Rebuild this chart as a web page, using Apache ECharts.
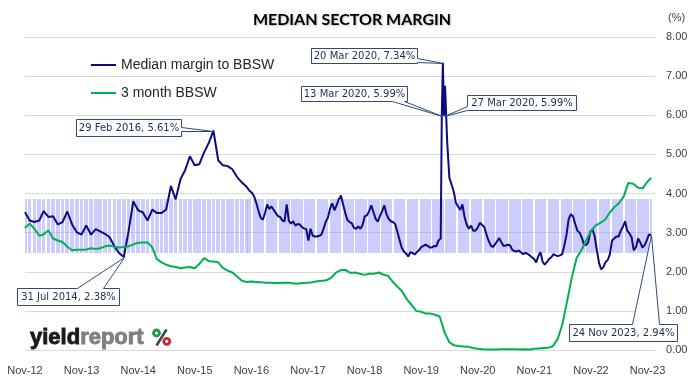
<!DOCTYPE html>
<html><head><meta charset="utf-8">
<script src="https://cdn.jsdelivr.net/npm/echarts@6/dist/echarts.min.js"></script>
<style>html,body{margin:0;padding:0;background:#fff}#c{width:699px;height:383px}</style>
</head><body><div id="c"></div>
<script>
// ---------------- DATA ----------------
const tickLabels = ['Nov-12','Nov-13','Nov-14','Nov-15','Nov-16','Nov-17','Nov-18','Nov-19','Nov-20','Nov-21','Nov-22','Nov-23'];

// Median margin to BBSW: month-end values Oct 2012 - Sep 2016
const marginMonthlyStart = '2012-10-31';
const marginMonthly = [3.52,3.31,3.27,3.31,3.55,3.40,3.42,3.21,3.27,3.54,
  3.21,3.01,2.95,3.18,2.95,3.09,3.03,2.97,2.88,2.65,
  2.48,2.38,3.05,3.80,3.57,3.52,3.31,3.59,3.50,3.50,
  3.59,4.19,3.85,4.36,4.60,4.95,4.72,4.75,5.05,5.30,
  5.61,4.85,4.72,4.70,4.62,4.42,4.28,4.17];
// then every second Friday from 7 Oct 2016 to 24 Nov 2023
const marginFortnightStart = '2016-10-07';
const marginFortnightly = [4.15,4.06,4.02,3.92,3.76,3.55,3.38,3.33,3.50,3.72,
  3.60,3.67,3.58,3.50,3.42,3.40,3.31,3.29,3.72,3.30,
  3.23,3.29,3.18,3.22,3.21,3.14,3.11,3.09,2.80,3.10,
  2.92,2.90,2.90,2.92,2.95,3.10,3.28,3.38,3.62,3.75,
  3.57,3.70,3.85,3.95,3.72,3.50,3.32,3.27,3.24,3.12,
  3.10,3.16,3.10,3.20,3.42,3.44,3.55,3.70,3.52,3.35,
  3.28,3.42,3.55,3.70,3.47,3.35,3.29,3.27,3.22,3.02,
  2.82,2.62,2.52,2.47,2.39,2.50,2.48,2.44,2.50,2.55,
  2.63,2.66,2.69,2.66,2.62,2.62,2.66,2.65,2.80,2.85,
  7.34,6.75,5.30,4.40,4.23,4.05,3.76,3.67,3.58,3.72,
  3.40,3.20,3.10,3.18,3.05,3.05,3.12,3.25,3.20,3.15,
  2.97,2.80,2.68,2.63,2.70,2.78,2.86,2.75,2.66,2.67,
  2.69,2.67,2.56,2.53,2.52,2.54,2.50,2.45,2.48,2.46,
  2.42,2.37,2.33,2.24,2.40,2.50,2.25,2.18,2.25,2.33,
  2.37,2.45,2.42,2.40,2.42,2.45,2.68,2.95,3.35,3.47,
  3.42,3.22,3.05,3.00,2.88,2.70,2.68,2.75,3.03,3.08,
  2.90,2.55,2.22,2.06,2.12,2.25,2.30,2.45,2.80,2.85,
  2.90,2.90,3.05,3.15,3.29,3.05,2.98,2.88,2.55,2.62,
  2.85,2.75,2.62,2.68,2.80,2.95,2.94];
// in-between weeks around the March 2020 spike
const marginExtraDates = ['2020-03-13','2020-03-27','2020-04-10'];
const marginExtraValues = [5.99, 5.99, 6.70];

// 3 month BBSW: month-end values Oct 2012 - Oct 2023, then 24 Nov 2023
const bbswMonthly = [3.12,3.23,3.10,2.92,2.95,3.06,2.85,2.80,2.76,2.64,
  2.55,2.56,2.56,2.57,2.60,2.58,2.60,2.65,2.67,2.64,
  2.62,2.63,2.65,2.70,2.74,2.75,2.75,2.62,2.33,2.24,
  2.18,2.14,2.12,2.09,2.11,2.12,2.09,2.20,2.35,2.27,
  2.26,2.24,2.10,2.03,1.98,1.88,1.77,1.74,1.75,1.74,
  1.73,1.72,1.72,1.71,1.71,1.72,1.72,1.70,1.70,1.71,
  1.72,1.73,1.76,1.77,1.78,1.85,1.98,2.04,2.05,1.97,
  1.98,1.95,1.92,1.95,1.95,1.98,1.93,1.90,1.75,1.62,
  1.50,1.30,1.15,1.00,0.98,0.93,0.93,0.90,0.85,0.45,
  0.20,0.12,0.10,0.09,0.08,0.05,0.03,0.02,0.01,0.01,
  0.01,0.02,0.02,0.02,0.02,0.01,0.02,0.01,0.03,0.04,
  0.05,0.06,0.10,0.28,0.65,1.25,1.85,2.35,2.55,2.80,
  3.03,3.18,3.25,3.33,3.50,3.65,3.75,3.92,4.27,4.25,
  4.15,4.13,4.30];
const bbswLastDate = '2023-11-24';
const bbswLastValue = 4.40;

// shaded range band (monthly columns, then weekly columns)
const bandRange = [2.47, 3.87];
const bandMonthlyCount = 48;
const bandWeeklyStart = '2016-10-07';
const bandWeeklyEnd = '2023-11-24';

// labelled points
const annotations = [
  {date:'2016-02-29', value:5.61},
  {date:'2020-03-20', value:7.34},
  {date:'2020-03-13', value:5.99},
  {date:'2020-03-27', value:5.99},
  {date:'2014-07-31', value:2.38},
  {date:'2023-11-24', value:2.94}
];

// ---------------- LAYOUT ----------------
const calloutLayout = [
  {box:[76,119,105,17], edge:'right', base:[127,131]},
  {box:[311,48,106,15], edge:'right', base:[58,62]},
  {box:[301,86,106,15], edge:'bottom', base:[392,404]},
  {box:[467,95,109,15], edge:'left', base:[106,110]},
  {box:[17,288,102,17], edge:'top', base:[77,103]},
  {box:[569,324,108,17], edge:'top', base:[632,659]}
];
const NAVY = '#0C0C80', GREEN = '#00B050', BOX_LINE = '#2F4A7A', BOX_TEXT = '#1F2F4F';
const MON = ['Jan','Feb','Mar','Apr','May','Jun','Jul','Aug','Sep','Oct','Nov','Dec'];

const DAY = 864e5;
function parseD(s){ const p = s.split('-').map(Number); return Date.UTC(p[0], p[1]-1, p[2]); }
const ORIGIN = parseD(marginMonthlyStart);
const toX = s => parseD(s) - ORIGIN;
const monthEndX = i => Date.UTC(2012, 10 + i, 0) - ORIGIN;
const X_MAX = 4066 * DAY;
const TICK = 365.25 * DAY;

const marginData = [];
marginMonthly.forEach((v,i)=>marginData.push([monthEndX(i), v]));
const fStart = toX(marginFortnightStart);
marginFortnightly.forEach((v,k)=>marginData.push([fStart + 14*k*DAY, v]));
marginExtraDates.forEach((s,i)=>marginData.push([toX(s), marginExtraValues[i]]));
marginData.sort((a,b)=>a[0]-b[0]);

const bbswData = bbswMonthly.map((v,i)=>[monthEndX(i), v]);
bbswData.push([toX(bbswLastDate), bbswLastValue]);

const bandData = [];
for (let i = 0; i < bandMonthlyCount; i++) bandData.push([monthEndX(i), bandRange[0], bandRange[1]]);
for (let t = toX(bandWeeklyStart); t <= toX(bandWeeklyEnd); t += 7*DAY) bandData.push([t, bandRange[0], bandRange[1]]);

const chart = echarts.init(document.getElementById('c'), null, {renderer:'canvas'});
const AX_FONT = 'Liberation Sans';
chart.setOption({
  animation:false,
  backgroundColor:'#ffffff',
  grid:{left:25, right:44, top:37, bottom:33, containLabel:false},
  legend:{
    data:['Median margin to BBSW','3 month BBSW'],
    orient:'vertical', left:86, top:52, itemWidth:25, itemHeight:2, itemGap:12, icon:'rect',
    selectedMode:false,
    textStyle:{fontFamily:AX_FONT, fontSize:14, color:'#262626', lineHeight:16}
  },
  xAxis:{
    type:'value', min:0, max:X_MAX, interval:TICK,
    axisLine:{show:false}, axisTick:{show:false}, splitLine:{show:false},
    axisLabel:{
      margin:15, fontFamily:AX_FONT, fontSize:11, color:'#404040', showMaxLabel:false,
      formatter:function(v){ const r = v / TICK; const k = Math.round(r); return Math.abs(r-k) < 1e-6 && tickLabels[k] ? tickLabels[k] : ''; }
    }
  },
  yAxis:{
    type:'value', position:'right', min:0, max:8, interval:1,
    axisLine:{show:false}, axisTick:{show:false},
    splitLine:{lineStyle:{color:'#D9D9D9', width:1}},
    axisLabel:{margin:11, fontFamily:AX_FONT, fontSize:11, color:'#404040', formatter:v=>v.toFixed(2)}
  },
  series:[
    {
      type:'custom', name:'band', silent:true, z:1,
      encode:{x:0, y:[1,2]},
      data:bandData,
      renderItem:function(params, api){
        const t = api.value(0), lo = api.value(1), hi = api.value(2);
        const monthly = params.dataIndex < bandMonthlyCount;
        const halfW = (monthly ? 30.44*0.78 : 7*0.88) * DAY / 2;
        const a = api.coord([t - halfW, hi]);
        const b = api.coord([t + halfW, lo]);
        const x0 = Math.round(a[0]), x1 = Math.round(b[0]);
        const y0 = Math.round(a[1]), y1 = Math.round(b[1]);
        const cs = params.coordSys;
        const shape = echarts.graphic.clipRectByRect(
          {x:x0, y:y0, width:x1-x0, height:y1-y0},
          {x:cs.x, y:cs.y, width:cs.width, height:cs.height});
        if (!shape || shape.width <= 0) return {type:'group', children:[]};
        return {type:'rect', shape:shape, style:{fill:'rgba(153,153,255,0.5)'}};
      }
    },
    {
      type:'line', name:'Median margin to BBSW', data:marginData, symbol:'none', z:3,
      lineStyle:{color:NAVY, width:2}, itemStyle:{color:NAVY}
    },
    {
      type:'line', name:'3 month BBSW', data:bbswData, symbol:'none', z:4,
      lineStyle:{color:GREEN, width:2}, itemStyle:{color:GREEN}
    }
  ]
});

// ---------------- GRAPHICS (title, unit, logo, callouts) ----------------
const g = [];
g.push({type:'text', x:352, y:20, z:10, style:{text:'MEDIAN SECTOR MARGIN', fill:'#000', font:'bold 16px Lato', align:'center', verticalAlign:'middle', textShadowColor:'rgba(0,0,0,0.25)', textShadowBlur:2, textShadowOffsetX:1, textShadowOffsetY:1}});
g.push({type:'text', x:668, y:18, z:10, style:{text:'(%)', fill:'#404040', font:'11px Liberation Sans', align:'left', verticalAlign:'middle'}});
// logo
g.push({type:'text', x:30, y:338, z:10, style:{text:'{a|yield}{b|report}', verticalAlign:'middle', align:'left',
  rich:{a:{fill:'#1a1a1a', stroke:'#1a1a1a', lineWidth:0.9, font:'bold 22px Liberation Sans'},
        b:{fill:'#808080', stroke:'#808080', lineWidth:0.9, font:'bold 22px Liberation Sans'}}}});
g.push({type:'line', z:10, shape:{x1:166.5, y1:329.5, x2:156.5, y2:345.5}, style:{stroke:'#444', lineWidth:2.6}});
g.push({type:'circle', z:11, shape:{cx:156.5, cy:333, r:3}, style:{fill:'none', stroke:'#1f9a3e', lineWidth:2.8}});
g.push({type:'circle', z:11, shape:{cx:166.8, cy:341.3, r:3}, style:{fill:'none', stroke:'#c9252c', lineWidth:2.8}});

function calloutPoints(L, tip){
  const [x,y,w,h] = L.box; const [a,b] = L.base;
  const pts = [[x,y]];
  if (L.edge === 'top') pts.push([a,y], tip, [b,y]);
  pts.push([x+w,y]);
  if (L.edge === 'right') pts.push([x+w,a], tip, [x+w,b]);
  pts.push([x+w,y+h]);
  if (L.edge === 'bottom') pts.push([b,y+h], tip, [a,y+h]);
  pts.push([x,y+h]);
  if (L.edge === 'left') pts.push([x,b], tip, [x,a]);
  return pts.map(p=>[Math.round(p[0])+0.5, Math.round(p[1])+0.5]);
}
annotations.forEach((an, i) => {
  const L = calloutLayout[i];
  const tip = chart.convertToPixel({gridIndex:0}, [toX(an.date), an.value]);
  const p = an.date.split('-').map(Number);
  const label = p[2] + ' ' + MON[p[1]-1] + ' ' + p[0] + ', ' + an.value.toFixed(2) + '%';
  g.push({type:'polygon', z:20, shape:{points:calloutPoints(L, tip)}, style:{fill:'#ffffff', stroke:BOX_LINE, lineWidth:1}});
  g.push({type:'text', z:21, x:L.box[0] + L.box[2]/2 + 0.5, y:L.box[1] + L.box[3]/2 + 0.5,
    style:{text:label, fill:BOX_TEXT, font:'10px DejaVu Sans', align:'center', verticalAlign:'middle'}});
});
chart.setOption({graphic:{elements:g}});
</script></body></html>
